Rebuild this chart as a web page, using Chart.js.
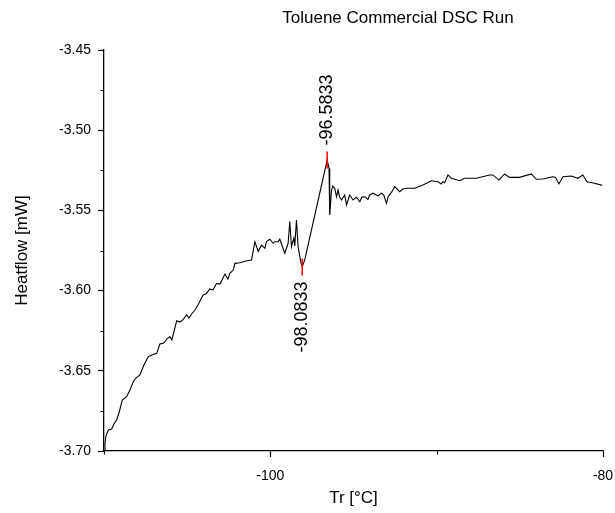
<!DOCTYPE html>
<html>
<head>
<meta charset="utf-8">
<title>Toluene Commercial DSC Run</title>
<script src="https://cdn.jsdelivr.net/npm/chart.js@4.4.1/dist/chart.umd.min.js"></script>
<style>
  html, body { margin: 0; padding: 0; background: #fff; }
  #wrap { width: 615px; height: 513px; }
</style>
</head>
<body>
<div id="wrap"><canvas id="dscChart" width="615" height="513"></canvas></div>
<script>
// Data
const tempC = [
  -109.97, -109.94, -109.88, -109.74, -109.54, -109.40, -109.24, -109.10, -108.90, -108.64,
  -108.44, -108.24, -108.08, -107.84, -107.60, -107.34, -107.12, -106.83, -106.64, -106.40,
  -106.22, -106.04, -105.92, -105.63, -105.44, -105.26, -105.03, -104.89, -104.73, -104.53,
  -104.35, -104.04, -103.87, -103.63, -103.45, -103.23, -103.03, -102.73, -102.55, -102.43,
  -102.23, -102.13, -101.83, -101.47, -101.13, -100.93, -100.73, -100.53, -100.33, -100.23,
  -100.03, -99.83, -99.73, -99.53, -99.43, -99.13, -98.93, -98.83, -98.73, -98.59,
  -98.53, -98.43, -98.33, -98.17, -98.0833, -97.93, -96.5833, -96.47, -96.43, -96.32,
  -96.25, -96.13, -96.02, -95.93, -95.83, -95.72, -95.53, -95.42, -95.23, -95.03,
  -94.82, -94.62, -94.50, -94.32, -94.13, -94.02, -93.83, -93.53, -93.32, -93.18,
  -93.02, -92.92, -92.70, -92.52, -92.22, -92.04, -91.82, -91.32, -90.82, -90.32,
  -89.92, -89.72, -89.62, -89.52, -89.32, -89.12, -88.62, -88.32, -87.62, -86.82,
  -86.62, -86.26, -85.92, -85.62, -85.02, -84.31, -84.01, -83.62, -83.02, -82.85,
  -82.65, -82.41, -81.91, -81.51, -81.21, -80.97, -80.51, -80.05
];
const heatflow = [
  -3.6994, -3.6950, -3.6906, -3.6869, -3.6863, -3.6832, -3.6807, -3.6763, -3.6682, -3.6661,
  -3.6620, -3.6568, -3.6545, -3.6526, -3.6464, -3.6412, -3.6402, -3.6391, -3.6333, -3.6327,
  -3.6302, -3.6287, -3.6308, -3.6188, -3.6196, -3.6183, -3.6152, -3.6171, -3.6146, -3.6121,
  -3.6090, -3.6027, -3.6021, -3.5990, -3.5996, -3.5955, -3.5959, -3.5897, -3.5928, -3.5892,
  -3.5872, -3.5830, -3.5826, -3.5815, -3.5809, -3.5695, -3.5757, -3.5716, -3.5736, -3.5695,
  -3.5680, -3.5705, -3.5695, -3.5695, -3.5680, -3.5767, -3.5705, -3.5570, -3.5726, -3.5672,
  -3.5722, -3.5560, -3.5726, -3.5822, -3.5853, -3.5809, -3.5186, -3.5238, -3.5529, -3.5373,
  -3.5348, -3.5362, -3.5415, -3.5373, -3.5416, -3.5435, -3.5404, -3.5466, -3.5404, -3.5435,
  -3.5418, -3.5446, -3.5416, -3.5415, -3.5431, -3.5404, -3.5393, -3.5410, -3.5393, -3.5404,
  -3.5456, -3.5415, -3.5385, -3.5352, -3.5383, -3.5367, -3.5362, -3.5362, -3.5342, -3.5315,
  -3.5321, -3.5335, -3.5321, -3.5327, -3.5279, -3.5300, -3.5315, -3.5300, -3.5300, -3.5279,
  -3.5279, -3.5311, -3.5273, -3.5294, -3.5294, -3.5273, -3.5306, -3.5304, -3.5290, -3.5294,
  -3.5335, -3.5290, -3.5286, -3.5300, -3.5279, -3.5321, -3.5331, -3.5344
];

// Marked peaks (red ticks + rotated labels)
const peakTemps = [-96.5833, -98.0833];
const peakFlows = [-3.5186, -3.5853];
const peakLabels = ["-96.5833", "-98.0833"];
const peakAbove = [true, false];

// Axis ticks
const xMajorTicks = [-100, -80];
const xMinorTicks = [-110, -90];
const yMajorTicks = [-3.70, -3.65, -3.60, -3.55, -3.50, -3.45];
const yMinorTicks = [-3.675, -3.625, -3.575, -3.525, -3.475];

const FONT = "'Liberation Sans', Arial, sans-serif";
Chart.defaults.font.family = FONT;
Chart.defaults.color = "#000";

const curve = tempC.map((t, i) => ({ x: t, y: heatflow[i] }));
const peaks = peakTemps.map((t, i) => ({ x: t, y: peakFlows[i] }));

// Title, minor ticks and peak labels
const extrasPlugin = {
  id: "extras",
  afterDraw(chart) {
    const ctx = chart.ctx;
    const xs = chart.scales.x;
    const ys = chart.scales.y;
    ctx.save();

    // title
    ctx.fillStyle = "#000";
    ctx.font = "17px " + FONT;
    ctx.textAlign = "center";
    ctx.textBaseline = "middle";
    ctx.fillText("Toluene Commercial DSC Run", 398, 18);

    // minor ticks
    ctx.strokeStyle = "#000";
    ctx.lineWidth = 1.2;
    ctx.beginPath();
    yMinorTicks.forEach((v) => {
      const py = Math.round(ys.getPixelForValue(v)) + 0.5;
      ctx.moveTo(ys.right, py);
      ctx.lineTo(ys.right - 3.5, py);
    });
    xMinorTicks.forEach((v) => {
      const px = Math.round(xs.getPixelForValue(v)) + 0.5;
      ctx.moveTo(px, xs.top);
      ctx.lineTo(px, xs.top + 3.5);
    });
    ctx.stroke();

    // peak labels, rotated
    ctx.font = "18px " + FONT;
    ctx.textBaseline = "middle";
    peakTemps.forEach((t, i) => {
      const px = xs.getPixelForValue(t);
      const py = ys.getPixelForValue(peakFlows[i]);
      ctx.save();
      if (peakAbove[i]) {
        ctx.translate(px, py - 14.5);
        ctx.rotate(-Math.PI / 2);
        ctx.textAlign = "left";
      } else {
        ctx.translate(px, py + 14.5);
        ctx.rotate(-Math.PI / 2);
        ctx.textAlign = "right";
      }
      ctx.fillText(peakLabels[i], 0, 0);
      ctx.restore();
    });
    ctx.restore();
  },
};

const ctx = document.getElementById("dscChart").getContext("2d");
new Chart(ctx, {
  type: "scatter",
  data: {
    datasets: [
      {
        label: "Peaks",
        data: peaks,
        order: 0,
        pointStyle: "line",
        rotation: 90,
        radius: 8.5,
        borderColor: "#ff0000",
        backgroundColor: "#ff0000",
        borderWidth: 1.5,
      },
      {
        label: "Heatflow",
        data: curve,
        order: 1,
        showLine: true,
        borderColor: "#000",
        borderWidth: 1.1,
        pointRadius: 0,
        tension: 0,
      },
    ],
  },
  options: {
    responsive: false,
    animation: false,
    layout: { padding: { top: 50, right: 12, left: 0, bottom: 0 } },
    plugins: {
      legend: { display: false },
      tooltip: { enabled: false },
      title: { display: false },
    },
    scales: {
      x: {
        type: "linear",
        min: -110,
        max: -80,
        afterBuildTicks: (s) => { s.ticks = xMajorTicks.map((v) => ({ value: v })); },
        afterFit: (s) => {
          s.height = 62;
          s.paddingLeft = 0;
          s.paddingRight = 0;
        },
        ticks: {
          font: { size: 14 },
          color: "#000",
          padding: 11,
          maxRotation: 0,
          callback: (v) => String(v),
        },
        grid: { drawOnChartArea: false, tickLength: 6, tickColor: "#000", tickWidth: 1.2 },
        border: { display: true, color: "#000", width: 1.3 },
        title: {
          display: true,
          text: "Tr [°C]",
          font: { size: 17 },
          color: "#000",
          padding: { top: 0, bottom: 4 },
        },
      },
      y: {
        type: "linear",
        min: -3.70,
        max: -3.45,
        afterBuildTicks: (s) => { s.ticks = yMajorTicks.map((v) => ({ value: v })); },
        afterFit: (s) => {
          s.width = 104;
          s.paddingTop = 0;
          s.paddingBottom = 0;
        },
        ticks: {
          font: { size: 14 },
          color: "#000",
          padding: 7,
          callback: (v) => Number(v).toFixed(2),
        },
        grid: { drawOnChartArea: false, tickLength: 6, tickColor: "#000", tickWidth: 1.2 },
        border: { display: true, color: "#000", width: 1.3 },
        title: {
          display: true,
          text: "Heatflow [mW]",
          font: { size: 17 },
          color: "#000",
          padding: { top: 12, bottom: 0 },
        },
      },
    },
  },
  plugins: [extrasPlugin],
});
</script>
</body>
</html>
